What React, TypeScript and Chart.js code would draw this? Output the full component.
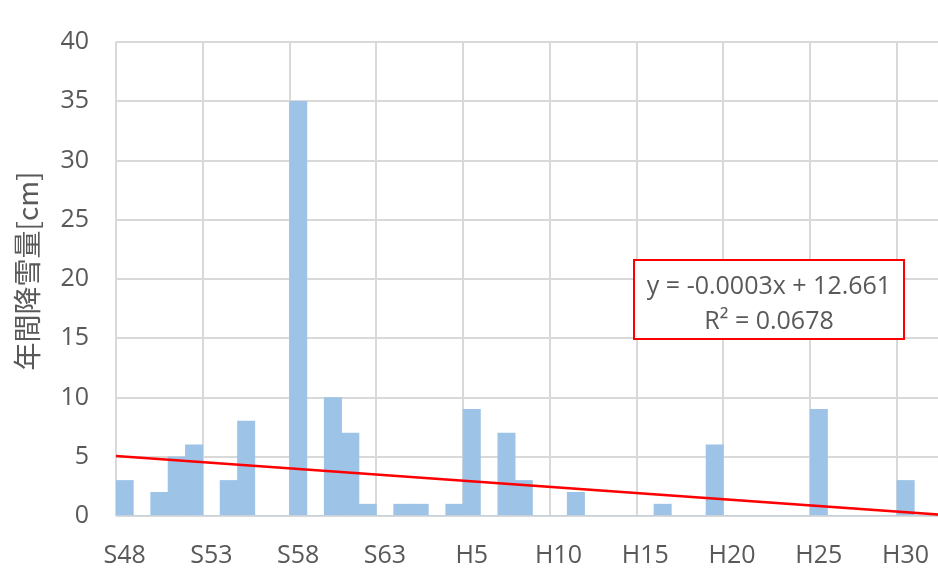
import React, { useEffect, useRef } from "react";
import { Chart, registerables } from "chart.js";

Chart.register(...registerables);

const categories: string[] = [
  "S48", "S49", "S50", "S51", "S52", "S53", "S54", "S55", "S56", "S57",
  "S58", "S59", "S60", "S61", "S62", "S63", "H1", "H2", "H3", "H4",
  "H5", "H6", "H7", "H8", "H9", "H10", "H11", "H12", "H13", "H14",
  "H15", "H16", "H17", "H18", "H19", "H20", "H21", "H22", "H23", "H24",
  "H25", "H26", "H27", "H28", "H29", "H30", "R1", "R2",
];

const snowfall: number[] = [
  3, 0, 2, 5, 6, 0, 3, 8, 0, 0,
  35, 0, 10, 7, 1, 0, 1, 1, 0, 1,
  9, 0, 7, 3, 0, 0, 2, 0, 0, 0,
  0, 1, 0, 0, 6, 0, 0, 0, 0, 0,
  9, 0, 0, 0, 0, 3, 0, 0,
];

const yTicks: number[] = [0, 5, 10, 15, 20, 25, 30, 35, 40];
const yTitle = "年間降雪量[cm]";
const equationLines: string[] = ["y = -0.0003x + 12.661", "R² = 0.0678"];

function regression(values: number[]) {
  const n = values.length;
  const xm = (n - 1) / 2;
  const ym = values.reduce((a, b) => a + b, 0) / n;
  let sxy = 0;
  let sxx = 0;
  values.forEach((v, i) => {
    sxy += (i - xm) * (v - ym);
    sxx += (i - xm) * (i - xm);
  });
  const slope = sxy / sxx;
  return (x: number) => ym + slope * (x - xm);
}

const FONT = "'Open Sans', 'Noto Sans', sans-serif";
const TEXT = "#595959";
const GRID = "#d9d9d9";
const CANVAS_W = 949;
const CANVAS_H = 571;

export default function App() {
  const ref = useRef<HTMLCanvasElement | null>(null);

  useEffect(() => {
    if (!ref.current) return;
    const n = categories.length;
    const f = regression(snowfall);
    const trend = [
      { x: -0.5, y: f(-0.5) },
      { x: n - 0.5, y: f(n - 0.5) },
    ];

    const overlay = {
      id: "overlay",
      afterDraw(chart: any) {
        const ctx = chart.ctx as CanvasRenderingContext2D;
        const area = chart.chartArea;
        ctx.save();
        ctx.translate(27.5, (area.top + area.bottom) / 2 - 8);
        ctx.rotate(-Math.PI / 2);
        ctx.font = "28px 'Noto Sans CJK JP', sans-serif";
        ctx.fillStyle = TEXT;
        ctx.textAlign = "center";
        ctx.textBaseline = "middle";
        ctx.fillText(yTitle, 0, 0);
        ctx.restore();

        const bx = 634, by = 260, bw = 270, bh = 79;
        ctx.save();
        ctx.fillStyle = "#ffffff";
        ctx.fillRect(bx, by, bw, bh);
        ctx.strokeStyle = "#ff0000";
        ctx.lineWidth = 2;
        ctx.strokeRect(bx, by, bw, bh);
        ctx.font = `25px ${FONT}`;
        ctx.fillStyle = TEXT;
        ctx.textAlign = "center";
        ctx.textBaseline = "middle";
        ctx.fillText(equationLines[0], bx + bw / 2, by + 27);
        ctx.fillText(equationLines[1], bx + bw / 2, by + 62);
        ctx.restore();
      },
    };

    const chart = new Chart(ref.current, {
      type: "bar",
      data: {
        labels: categories,
        datasets: [
          {
            type: "line",
            data: trend as any,
            xAxisID: "xt",
            borderColor: "#ff0000",
            borderWidth: 2.5,
            pointRadius: 0,
            fill: false,
            order: 0,
          } as any,
          {
            type: "bar",
            data: snowfall,
            xAxisID: "x",
            backgroundColor: "#9dc3e6",
            barPercentage: 1.0,
            categoryPercentage: 1.0,
            grouped: false,
            order: 1,
          } as any,
        ],
      },
      options: {
        animation: false,
        responsive: false,
        maintainAspectRatio: false,
        layout: { padding: { top: 18, right: 0, left: 0, bottom: 0 } },
        plugins: {
          legend: { display: false },
          tooltip: { enabled: false },
        },
        scales: {
          x: {
            type: "category",
            offset: true,
            grid: {
              offset: true,
              drawTicks: true,
              tickLength: 25,
              tickColor: "rgba(0,0,0,0)",
              lineWidth: 2,
              color: (c: any) => (c.index % 5 === 0 ? GRID : "rgba(0,0,0,0)"),
            },
            border: { display: false },
            ticks: {
              autoSkip: false,
              maxRotation: 0,
              minRotation: 0,
              padding: 0,
              color: TEXT,
              font: { family: FONT, size: 25 },
              callback: (_v: any, i: number) => (i % 5 === 0 ? categories[i] : ""),
            },
            afterFit: (s: any) => {
              s.height = 55;
            },
          },
          xt: {
            type: "linear",
            display: false,
            offset: false,
            grid: { offset: false },
            min: -0.5,
            max: n - 0.5,
          },
          y: {
            min: 0,
            max: 40,
            afterBuildTicks: (s: any) => {
              s.ticks = yTicks.map((v) => ({ value: v }));
            },
            grid: { color: GRID, lineWidth: 2, drawTicks: false },
            border: { display: false },
            ticks: {
              padding: 27,
              color: TEXT,
              font: { family: FONT, size: 25 },
            },
            afterFit: (s: any) => {
              s.width = 116;
            },
          },
        },
      } as any,
      plugins: [overlay],
    });
    return () => chart.destroy();
  }, []);

  return (
    <div
      style={{
        position: "fixed",
        left: 0,
        top: 0,
        width: 938,
        height: 571,
        overflow: "hidden",
        background: "#ffffff",
      }}
    >
      <canvas
        ref={ref}
        width={CANVAS_W}
        height={CANVAS_H}
        style={{ display: "block", width: CANVAS_W, height: CANVAS_H }}
      />
    </div>
  );
}
